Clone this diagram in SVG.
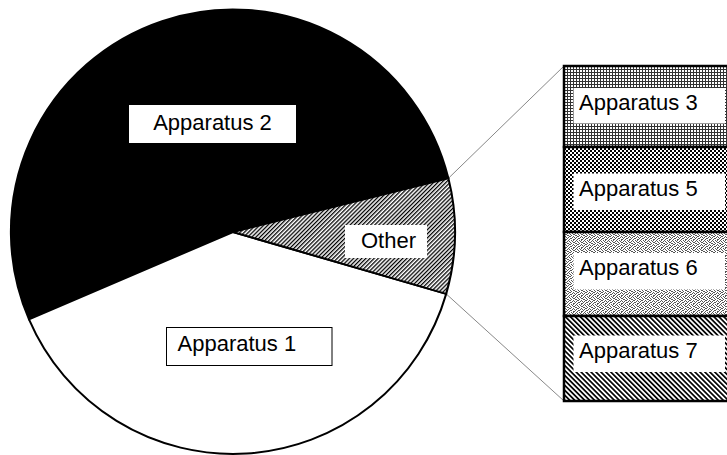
<svg xmlns="http://www.w3.org/2000/svg" width="727" height="455" viewBox="0 0 727 455">
  <defs>
    <pattern id="hatchFwd" patternUnits="userSpaceOnUse" width="2.9" height="2.9" patternTransform="rotate(45)">
      <rect width="2.9" height="2.9" fill="#fff"/>
      <rect width="1.3" height="2.9" fill="#000"/>
    </pattern>
    <pattern id="hatchBack" patternUnits="userSpaceOnUse" width="3.5" height="3.5" patternTransform="rotate(-45)">
      <rect width="3.5" height="3.5" fill="#fff"/>
      <rect width="1.7" height="3.5" fill="#000"/>
    </pattern>
    <pattern id="grid" patternUnits="userSpaceOnUse" width="3" height="3">
      <rect width="3" height="3" fill="#fff"/>
      <rect width="3" height="1" fill="#333"/>
      <rect width="1" height="3" fill="#333"/>
    </pattern>
    <pattern id="checker" patternUnits="userSpaceOnUse" width="4" height="4">
      <rect width="4" height="4" fill="#fff"/>
      <rect width="2" height="2" fill="#000"/>
      <rect x="2" y="2" width="2" height="2" fill="#000"/>
    </pattern>
    <pattern id="noise" patternUnits="userSpaceOnUse" width="8" height="8">
      <rect width="8" height="8" fill="#fff"/>
      <g fill="#555">
        <rect x="0" y="0" width="1" height="1"/><rect x="3" y="0" width="1" height="1"/><rect x="5" y="0" width="1" height="1"/>
        <rect x="1" y="1" width="1" height="1"/><rect x="4" y="1" width="1" height="1"/><rect x="7" y="1" width="1" height="1"/>
        <rect x="2" y="2" width="1" height="1"/><rect x="5" y="2" width="1" height="1"/><rect x="6" y="2" width="1" height="1"/>
        <rect x="0" y="3" width="1" height="1"/><rect x="3" y="3" width="1" height="1"/><rect x="7" y="3" width="1" height="1"/>
        <rect x="1" y="4" width="1" height="1"/><rect x="2" y="4" width="1" height="1"/><rect x="5" y="4" width="1" height="1"/>
        <rect x="0" y="5" width="1" height="1"/><rect x="4" y="5" width="1" height="1"/><rect x="6" y="5" width="1" height="1"/>
        <rect x="2" y="6" width="1" height="1"/><rect x="3" y="6" width="1" height="1"/><rect x="7" y="6" width="1" height="1"/>
        <rect x="1" y="7" width="1" height="1"/><rect x="5" y="7" width="1" height="1"/><rect x="6" y="7" width="1" height="1"/>
      </g>
    </pattern>
  </defs>
  <style>
    .slice { stroke: #000; stroke-width: 2; stroke-linejoin: round; }
    .lbl { fill: #fff; }
    .txt { font-family: "Liberation Sans", Arial, sans-serif; font-size: 22px; fill: #000; }
    .seg { stroke: #000; stroke-width: 2.5; }
    .conn { stroke: #888; stroke-width: 1; fill: none; }
  </style>
  <rect width="727" height="455" fill="#fff"/>

  <g id="connectors">
    <line class="conn" x1="448.4" y1="178.3" x2="564" y2="66"/>
    <line class="conn" x1="446.2" y1="293.9" x2="564" y2="401"/>
  </g>

  <g id="apparatus-2">
    <path class="slice" fill="#000" d="M233,232 L29,319.4 A222,222 0 1 1 448.4,178.3 Z"/>
    <rect class="lbl" x="129" y="105" width="167" height="38"/>
    <text class="txt" x="212.5" y="130" text-anchor="middle">Apparatus 2</text>
  </g>

  <g id="apparatus-1">
    <path class="slice" fill="#fff" d="M233,232 L446.2,293.9 A222,222 0 0 1 29,319.4 Z"/>
    <rect class="lbl" x="166.5" y="327.5" width="165.5" height="38" stroke="#000" stroke-width="1"/>
    <text class="txt" x="177.5" y="351">Apparatus 1</text>
  </g>

  <g id="other">
    <path class="slice" fill="url(#hatchFwd)" d="M233,232 L448.4,178.3 A222,222 0 0 1 446.2,293.9 Z"/>
    <rect class="lbl" x="345" y="225" width="82" height="33"/>
    <text class="txt" x="361" y="248">Other</text>
  </g>

  <g id="apparatus-3">
    <rect class="seg" x="564" y="66" width="200" height="81" fill="url(#grid)"/>
    <rect class="lbl" x="573.5" y="88" width="151.5" height="35.5"/>
    <text class="txt" x="579" y="110">Apparatus 3</text>
  </g>
  <g id="apparatus-5">
    <rect class="seg" x="564" y="147" width="200" height="85" fill="url(#checker)"/>
    <rect class="lbl" x="573.5" y="173.5" width="151.5" height="36.5"/>
    <text class="txt" x="579" y="196">Apparatus 5</text>
  </g>
  <g id="apparatus-6">
    <rect class="seg" x="564" y="232" width="200" height="84" fill="url(#noise)"/>
    <rect class="lbl" x="573.5" y="253" width="151.5" height="36.5"/>
    <text class="txt" x="579" y="275">Apparatus 6</text>
  </g>
  <g id="apparatus-7">
    <rect class="seg" x="564" y="316" width="200" height="85" fill="url(#hatchBack)"/>
    <rect class="lbl" x="573.5" y="335.5" width="151.5" height="36.5"/>
    <text class="txt" x="579" y="358">Apparatus 7</text>
  </g>
</svg>
